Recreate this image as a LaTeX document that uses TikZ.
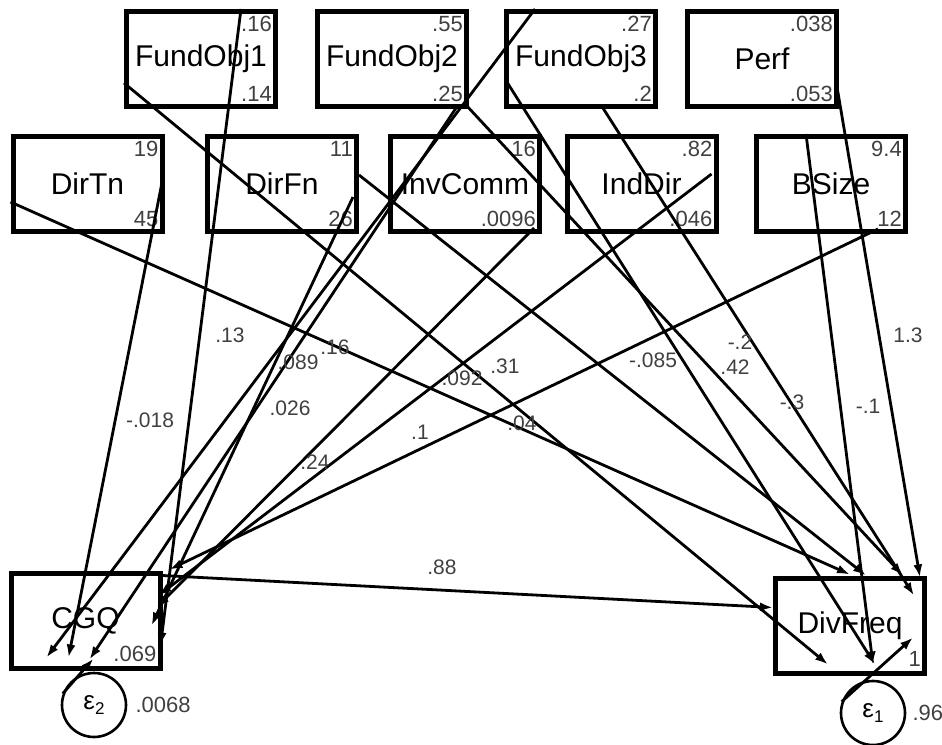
\documentclass[tikz,border=0pt]{standalone}
\usepackage{fontspec}
\setmainfont{Liberation Sans}
\usetikzlibrary{arrows.meta}
\begin{document}
\begin{tikzpicture}[x=1pt,y=-1pt]
\tikzstyle{every node}+=[inner sep=0pt]
\tikzstyle{var}=[draw,line width=5pt,minimum width=149pt,minimum height=95pt,font=\fontsize{30}{30}\selectfont]
\tikzstyle{err}=[draw,circle,line width=2.6pt,minimum size=64pt,font=\fontsize{26}{26}\selectfont]
\tikzstyle{num}=[font=\fontsize{22}{22}\selectfont,text=black!75]
\tikzstyle{coef}=[font=\fontsize{21}{21}\selectfont,text=black!75]
\tikzstyle{path}=[line width=2.8pt,-{Latex[length=13pt,width=9pt]}]
\useasboundingbox (0,0) rectangle (942,744);
\node[var] (FundObj1) at (201,59) {FundObj1};
\node[var] (FundObj2) at (392,59) {FundObj2};
\node[var] (FundObj3) at (581,59) {FundObj3};
\node[var] (Perf) at (762,59) {Perf};
\node[var] (DirTn) at (87.5,184) {DirTn};
\node[var] (DirFn) at (282,184) {DirFn};
\node[var] (InvComm) at (465,184) {InvComm};
\node[var] (IndDir) at (641.5,184) {IndDir};
\node[var] (BSize) at (831,184) {BSize};
\node[var] (CGQ) at (85.5,620.5) {CGQ};
\node[var] (DivFreq) at (850,625.5) {DivFreq};
\node[err] (e2) at (94,705) {ε\raisebox{-5pt}{\fontsize{17}{17}\selectfont 2}};
\node[err] (e1) at (873,713) {ε\raisebox{-5pt}{\fontsize{17}{17}\selectfont 1}};
\node[num,anchor=north east] at ([xshift=-6pt,yshift=-7pt]FundObj1.north east) {.16};
\node[num,anchor=south east] at ([xshift=-6pt,yshift=7pt]FundObj1.south east) {.14};
\node[num,anchor=north east] at ([xshift=-6pt,yshift=-7pt]FundObj2.north east) {.55};
\node[num,anchor=south east] at ([xshift=-6pt,yshift=7pt]FundObj2.south east) {.25};
\node[num,anchor=north east] at ([xshift=-6pt,yshift=-7pt]FundObj3.north east) {.27};
\node[num,anchor=south east] at ([xshift=-6pt,yshift=7pt]FundObj3.south east) {.2};
\node[num,anchor=north east] at ([xshift=-6pt,yshift=-7pt]Perf.north east) {.038};
\node[num,anchor=south east] at ([xshift=-6pt,yshift=7pt]Perf.south east) {.053};
\node[num,anchor=north east] at ([xshift=-6pt,yshift=-7pt]DirTn.north east) {19};
\node[num,anchor=south east] at ([xshift=-6pt,yshift=7pt]DirTn.south east) {45};
\node[num,anchor=north east] at ([xshift=-6pt,yshift=-7pt]DirFn.north east) {11};
\node[num,anchor=south east] at ([xshift=-6pt,yshift=7pt]DirFn.south east) {26};
\node[num,anchor=north east] at ([xshift=-6pt,yshift=-7pt]InvComm.north east) {16};
\node[num,anchor=south east] at ([xshift=-6pt,yshift=7pt]InvComm.south east) {.0096};
\node[num,anchor=north east] at ([xshift=-6pt,yshift=-7pt]IndDir.north east) {.82};
\node[num,anchor=south east] at ([xshift=-6pt,yshift=7pt]IndDir.south east) {.046};
\node[num,anchor=north east] at ([xshift=-6pt,yshift=-7pt]BSize.north east) {9.4};
\node[num,anchor=south east] at ([xshift=-6pt,yshift=7pt]BSize.south east) {12};
\node[num,anchor=south east] at ([xshift=-6pt,yshift=9pt]CGQ.south east) {.069};
\node[num,anchor=south east] at ([xshift=-6pt,yshift=9pt]DivFreq.south east) {1};
\node[num,anchor=west] at ([xshift=8pt]e2.east) {.0068};
\node[num,anchor=west] at ([xshift=6pt]e1.east) {.96};
\draw[path] ([xshift=-2pt,yshift=-46pt]DirTn.north east) -- ([xshift=60pt,yshift=-87pt]CGQ.north west);
\draw[path] ([xshift=117pt]FundObj1.north west) -- ([xshift=152pt,yshift=-75pt]CGQ.north west);
\draw[path] ([xshift=148pt,yshift=-63pt]DirFn.north west) -- ([xshift=143pt,yshift=-55pt]CGQ.north west);
\draw[path] ([xshift=143pt,yshift=-96pt]FundObj2.north west) -- ([xshift=81pt,yshift=-89pt]CGQ.north west);
\draw[path] ([xshift=31pt]FundObj3.north west) -- ([xshift=38pt,yshift=-87pt]CGQ.north west);
\draw[path] ([xshift=146pt,yshift=-94pt]InvComm.north west) -- ([xshift=148pt,yshift=-37pt]CGQ.north west);
\draw[path] ([xshift=147pt,yshift=-40pt]IndDir.north west) -- ([xshift=150pt,yshift=-25pt]CGQ.north west);
\draw[path] ([xshift=124pt,yshift=-95pt]BSize.north west) -- ([xshift=161pt,yshift=1pt]CGQ.north west);
\draw[path] ([yshift=-68pt]DirTn.north west) -- ([xshift=77pt,yshift=1pt]DivFreq.north west);
\draw[path] ([yshift=-74pt]FundObj1.north west) -- ([xshift=55pt,yshift=-89pt]DivFreq.north west);
\draw[path] ([yshift=-41pt]DirFn.north east) -- ([xshift=93pt,yshift=0pt]DivFreq.north west);
\draw[path] ([xshift=151pt,yshift=-96pt]FundObj2.north west) -- ([xshift=130pt,yshift=0pt]DivFreq.north west);
\draw[path] ([xshift=1pt,yshift=-70pt]FundObj3.north west) -- ([xshift=102pt,yshift=-89pt]DivFreq.north west);
\draw[path] ([xshift=52pt]BSize.north west) -- ([xshift=100pt,yshift=-89pt]DivFreq.north west);
\draw[path] ([xshift=151pt,yshift=-72pt]Perf.north west) -- ([xshift=147pt,yshift=-2pt]DivFreq.north west);
\draw[path] ([xshift=97pt,yshift=-96pt]FundObj3.north west) -- ([xshift=141pt,yshift=-20pt]DivFreq.north west);
\draw[path] ([yshift=-5pt]CGQ.north east) -- ([yshift=-32pt]DivFreq.north west);
\draw[path] (e2.160) -- ([xshift=85pt,yshift=-88pt]CGQ.north west);
\draw[path] (e1.160) -- ([xshift=140pt,yshift=-62pt]DivFreq.north west);
\node[coef] at (150,420) {-.018};
\node[coef] at (230,335) {.13};
\node[coef] at (298,362) {.089};
\node[coef] at (335,347) {.16};
\node[coef] at (290,408) {.026};
\node[coef] at (315,462) {.24};
\node[coef] at (420,432) {.1};
\node[coef] at (462,378) {.092};
\node[coef] at (505,366) {.31};
\node[coef] at (522,423) {.04};
\node[coef] at (653,360) {-.085};
\node[coef] at (740,342) {-.2};
\node[coef] at (735,367) {.42};
\node[coef] at (792,402) {-.3};
\node[coef] at (868,406) {-.1};
\node[coef] at (908,335) {1.3};
\node[coef] at (442,567) {.88};
\end{tikzpicture}
\end{document}
